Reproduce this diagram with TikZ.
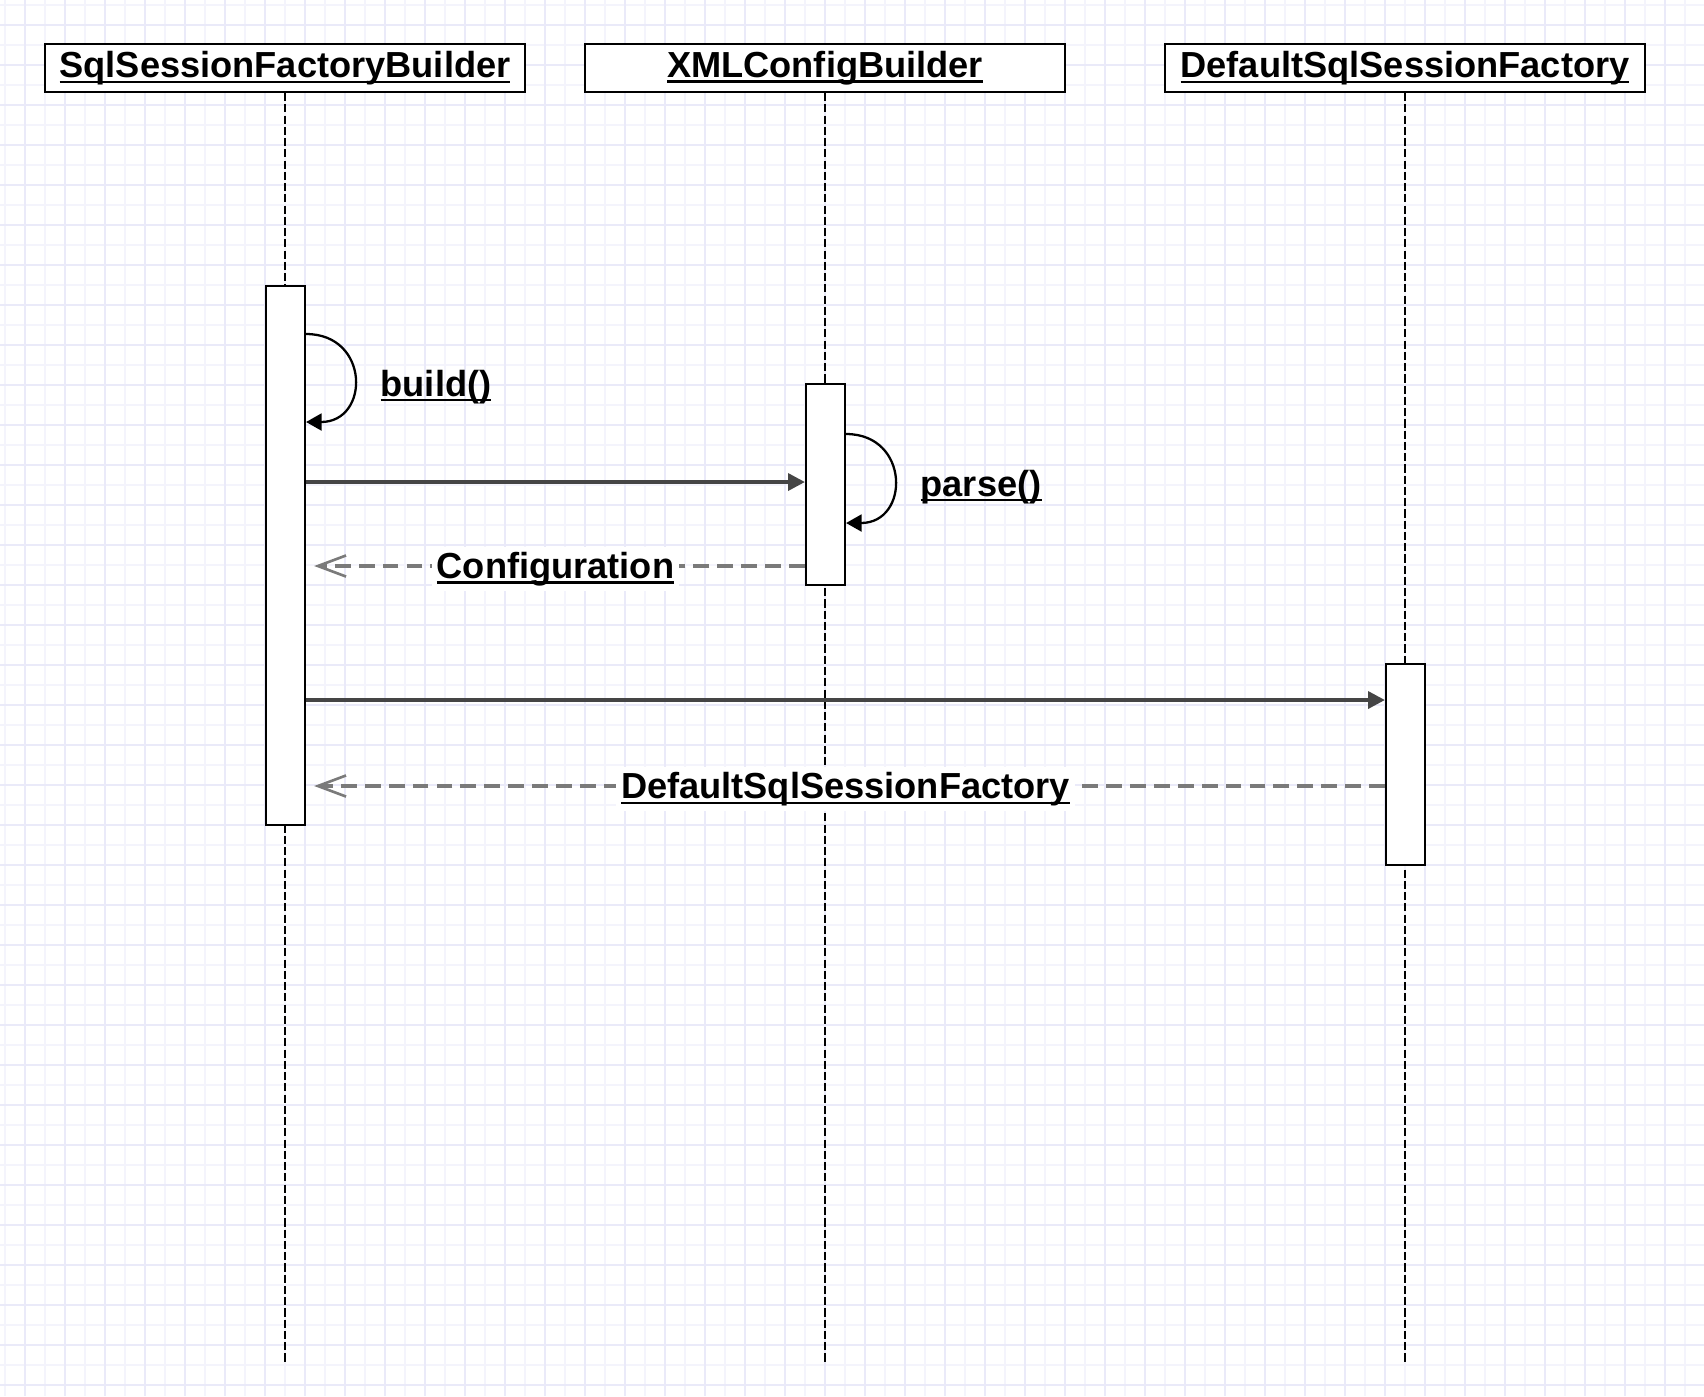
\documentclass[tikz,border=0pt]{standalone}
\usepackage{fontspec}
\setmainfont{Liberation Sans}
\usetikzlibrary{arrows.meta}

\definecolor{gridminor}{HTML}{F4F4FC}
\definecolor{gridmajor}{HTML}{EAEAF9}
\definecolor{msgline}{HTML}{454545}
\definecolor{retline}{HTML}{7A7A7A}

\newcommand{\seqfont}{\fontsize{10.3}{12}\selectfont\bfseries}
\newcommand{\sequl}[1]{\setbox0=\hbox{#1}\rlap{\vrule width\wd0 height -0.9pt depth 1.5pt}\box0}

\tikzset{
  lifehead/.style={draw, line width=0.6pt, fill=white, minimum width=4.8cm, minimum height=0.48cm, inner sep=0pt, font=\seqfont},
  lifeline/.style={line width=0.6pt, dash pattern=on 2.3pt off 0.9pt},
  actbox/.style={draw, line width=0.6pt, fill=white, minimum width=0.39cm, inner sep=0pt},
  callmsg/.style={draw=msgline, line width=1.05pt, -{Triangle[length=4.8pt,width=4.8pt]}},
  retmsg/.style={draw=retline, line width=1pt, dash pattern=on 4.5pt off 2.3pt, shorten >=2.3pt, -{Straight Barb[length=8pt,width=6pt,line width=0.75pt]}},
  selfmsg/.style={line width=0.65pt, -{Triangle[length=4.4pt,width=4.8pt]}},
  msglabel/.style={font=\seqfont, fill=white, inner sep=1.5pt, yshift=-0.03cm},
}

\begin{document}
\begin{tikzpicture}[x=0.01cm,y=-0.01cm]
  \useasboundingbox (0,0) rectangle (1704,1396);
  \fill[white] (0,0) rectangle (1704,1396);
  % background grid
  \foreach \g in {5,45,...,1705} {
    \draw[gridminor, line width=0.4pt] (\g,0) -- (\g,1396);
    \draw[gridminor, line width=0.4pt] (0,\g) -- (1704,\g);
  }
  \foreach \g in {25,65,...,1705} {
    \draw[gridmajor, line width=0.4pt] (\g,0) -- (\g,1396);
    \draw[gridmajor, line width=0.4pt] (0,\g) -- (1704,\g);
  }

  % lifelines
  \node[lifehead] (sfb) at (285,68) {\sequl{SqlSessionFactoryBuilder}};
  \node[lifehead] (xcb) at (825,68) {\sequl{XMLConfigBuilder}};
  \node[lifehead] (dsf) at (1405,68) {\sequl{DefaultSqlSessionFactory}};
  \coordinate (sfbend) at (285,1364);
  \coordinate (xcbend) at (825,1364);
  \coordinate (dsfend) at (1405,1364);
  \draw[lifeline] (sfb.south) -- (sfbend);
  \draw[lifeline] (xcb.south) -- (xcbend);
  \draw[lifeline] (dsf.south) -- (dsfend);

  % activations
  \node[actbox, minimum height=5.39cm] (act1) at (285.5,555.5) {};
  \node[actbox, minimum height=2.01cm] (act2) at (825.5,484.5) {};
  \node[actbox, minimum height=2.01cm] (act3) at (1405.5,764.5) {};

  % messages
  \draw[selfmsg] (act1.east |- 0,334) .. controls +(64,0) and +(64,0) .. (act1.east |- 0,422);
  \node[anchor=base west, font=\seqfont, inner sep=0pt] (buildlbl) at (380,396) {\sequl{build()}};
  \draw[callmsg] (act1.east |- 0,482) -- (act2.west |- 0,482);
  \draw[selfmsg] (act2.east |- 0,434) .. controls +(64,0) and +(64,0) .. (act2.east |- 0,523);
  \node[anchor=base west, font=\seqfont, inner sep=0pt] (parselbl) at (920,496) {\sequl{parse()}};
  \draw[retmsg] (act2.west |- 0,566) -- node[msglabel] (cfglbl) {\sequl{Configuration}} (act1.east |- 0,566);
  \draw[callmsg] (act1.east |- 0,700) -- (act3.west |- 0,700);
  \draw[retmsg] (act3.west |- 0,786) -- node[msglabel] (dsflbl) {\sequl{DefaultSqlSessionFactory}} (act1.east |- 0,786);
\end{tikzpicture}
\end{document}
